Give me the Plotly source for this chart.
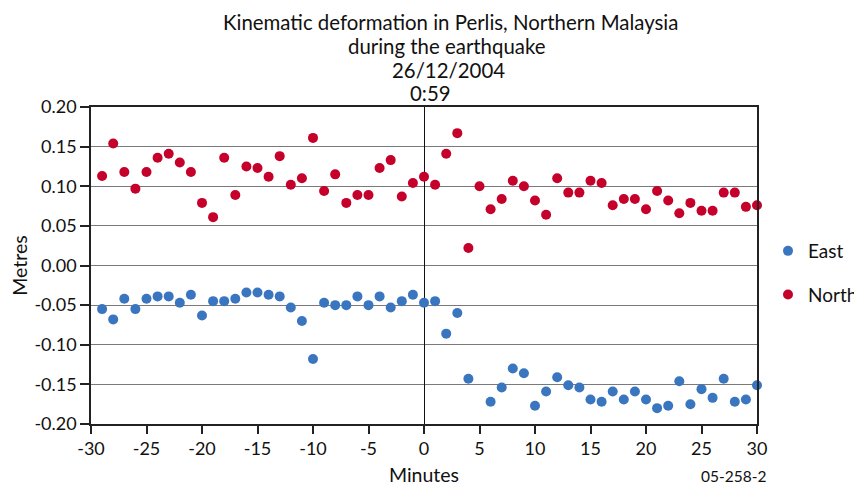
import plotly.graph_objects as go

minutes = list(range(-29, 31))

east = [-0.055, -0.068, -0.042, -0.055, -0.042, -0.039, -0.039, -0.047, -0.037, -0.063,
        -0.045, -0.045, -0.042, -0.034, -0.034, -0.037, -0.039, -0.053, -0.070, -0.118,
        -0.047, -0.050, -0.050, -0.039, -0.050, -0.039, -0.053, -0.045, -0.037, -0.047,
        -0.045, -0.086, -0.060, -0.143, -0.203, -0.172, -0.154, -0.130, -0.136, -0.177,
        -0.159, -0.141, -0.151, -0.154, -0.169, -0.172, -0.159, -0.169, -0.159, -0.169,
        -0.180, -0.177, -0.146, -0.175, -0.156, -0.167, -0.143, -0.172, -0.169, -0.151]

north = [0.113, 0.154, 0.118, 0.097, 0.118, 0.136, 0.141, 0.130, 0.118, 0.079,
         0.061, 0.136, 0.089, 0.125, 0.123, 0.112, 0.138, 0.102, 0.110, 0.161,
         0.094, 0.115, 0.079, 0.089, 0.089, 0.123, 0.133, 0.087, 0.104, 0.112,
         0.102, 0.141, 0.167, 0.022, 0.100, 0.071, 0.084, 0.107, 0.100, 0.082,
         0.064, 0.110, 0.092, 0.092, 0.107, 0.104, 0.076, 0.084, 0.084, 0.071,
         0.094, 0.082, 0.066, 0.079, 0.069, 0.069, 0.092, 0.092, 0.074, 0.076]

x_ticks = list(range(-30, 31, 5))
y_ticks = [0.20, 0.15, 0.10, 0.05, 0.00, -0.05, -0.10, -0.15, -0.20]

title_lines = ["Kinematic deformation in Perlis, Northern Malaysia",
               "during the earthquake", "26/12/2004", "0:59"]

FONT = "Lato"
BLUE = "#3a76c0"
RED = "#c4002b"

# the page body has an 8px margin, so the figure is drawn 8px smaller and
# every reference pixel position is shifted by OFF
OFF = 8
W, H = 862 - OFF, 488 - OFF
L, T = 91 - OFF, 107 - OFF
R = W - (757 - OFF)
B = H - (424 - OFF)

fig = go.Figure()
fig.add_trace(go.Scatter(x=minutes, y=east, mode="markers", name="East",
                         marker=dict(color=BLUE, size=10), cliponaxis=False,
                         legendgroup="e"))
fig.add_trace(go.Scatter(x=minutes, y=north, mode="markers", name="North",
                         marker=dict(color=RED, size=10), cliponaxis=False,
                         legendgroup="n"))

pw, ph = W - L - R, H - T - B

def px_x(px):
    return (px - OFF - L) / pw

def px_y(py):
    return (H - B - (py - OFF)) / ph

fig.update_layout(
    width=W, height=H,
    margin=dict(l=L, r=R, t=T, b=B, autoexpand=False),
    paper_bgcolor="white", plot_bgcolor="white",
    font=dict(family=FONT, size=18, color="#111111"),
    legend=dict(x=px_x(768), y=px_y(232), xanchor="left", yanchor="top",
                font=dict(size=19), tracegroupgap=16, bgcolor="rgba(0,0,0,0)"),
    xaxis=dict(range=[-30, 30], tickvals=x_ticks, ticktext=[str(v) for v in x_ticks],
               showgrid=False, zeroline=True, zerolinecolor="#111111", zerolinewidth=1.2,
               showline=True, linecolor="#222222", linewidth=1.5, mirror=True,
               ticks="outside", ticklen=8, tickwidth=1.5, tickcolor="#222222",
               automargin=False,
               title=dict(text="Minutes", standoff=10, font=dict(size=19.5)),
               tickfont=dict(size=18)),
    yaxis=dict(range=[-0.20, 0.20], tickvals=y_ticks, ticktext=[f"{v:.2f}" for v in y_ticks],
               showgrid=True, gridcolor="#7a7a7a", gridwidth=1.3,
               zeroline=False,
               showline=True, linecolor="#222222", linewidth=1.5, mirror=True,
               ticks="outside", ticklen=9, tickwidth=1.5, tickcolor="#222222",
               automargin=False,
               title=dict(text="Metres", standoff=8, font=dict(size=19.5)),
               tickfont=dict(size=18)),
)

title_pos = [(450, 22), (446, 46), (448, 70), (430, 93)]
for txt, (cx, cy) in zip(title_lines, title_pos):
    fig.add_annotation(text=txt, xref="paper", yref="paper",
                       x=px_x(cx), y=px_y(cy), xanchor="center", yanchor="middle",
                       showarrow=False, font=dict(family=FONT, size=20.4, color="#111111"))

fig.add_annotation(text="05-258-2", xref="paper", yref="paper",
                   x=px_x(733), y=px_y(476), xanchor="center", yanchor="middle",
                   showarrow=False, font=dict(family=FONT, size=15.5, color="#111111"))

fig.write_html("out.html")
